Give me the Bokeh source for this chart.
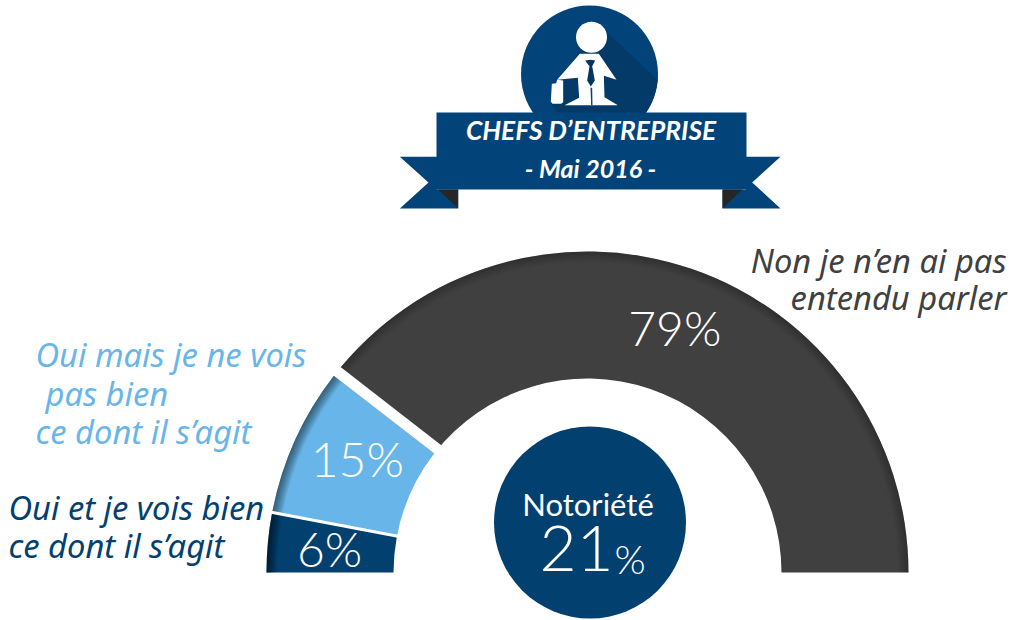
import math
from bokeh.plotting import figure
from bokeh.core.properties import value
from bokeh.embed import file_html
from bokeh.resources import INLINE

# ---- data ----
segment_names = ["Oui et je vois bien ce dont il s'agit", "Oui mais je ne vois pas bien ce dont il s'agit", "Non je n'en ai pas entendu parler"]
segment_values = [6, 15, 79]
notoriety_value = 21
title_lines = ["CHEFS D\u2019ENTREPRISE", "- Mai 2016 -"]

NAVY = "#02406f"
BAND = "#02447a"
BLUE = "#68b6e9"
DARK = "#404040"
seg_colors = [NAVY, BLUE, DARK]

W, H = 1014, 620
def Y(y): return H - y

p = figure(width=W, height=H, x_range=(0, W), y_range=(0, H), output_backend="svg",
           toolbar_location=None, min_border=0, outline_line_color=None, background_fill_color="white")
p.axis.visible = False
p.grid.visible = False

def base_text(txt, x, y, size, font, color="white", align="left", style="normal"):
    """Text whose alphabetic baseline sits at picture row y."""
    p.text(x=[x], y=[Y(y - 0.39 * size)], text=[txt], text_font=value(font), text_font_style=style,
           text_font_size=f"{size}px", text_color=color, text_align=align, text_baseline="alphabetic")

# ---- gauge ----
CX, CY, R_OUT, R_IN = 587, Y(572), 321, 194
cum = 0
starts, ends, mids = [], [], []
for v in segment_values:
    a0 = math.pi * (1 - cum / 100)
    cum += v
    a1 = math.pi * (1 - cum / 100)
    starts.append(a1); ends.append(a0); mids.append((a0 + a1) / 2)

p.annular_wedge(x=[CX]*3, y=[CY]*3, inner_radius=R_IN, outer_radius=R_OUT, start_angle=starts, end_angle=ends,
                fill_color=seg_colors, line_color=None)

# inner shadow at the outer rim
for k in range(8):
    for i, alpha0 in ((0, .08), (1, .07), (2, .028)):
        p.annular_wedge(x=[CX], y=[CY], inner_radius=R_OUT - (k + 1) * 1.3, outer_radius=R_OUT,
                        start_angle=[starts[i]], end_angle=[ends[i]], fill_color="black",
                        fill_alpha=alpha0, line_color=None)

# separators
a = ends[1]
p.segment(x0=[CX + 185*math.cos(a)], y0=[CY + 185*math.sin(a)], x1=[CX + 330*math.cos(a)], y1=[CY + 330*math.sin(a)],
          line_color="white", line_width=3)
a = starts[1]
nx, ny = math.sin(a), -math.cos(a)
off = 5.5
p.segment(x0=[CX + 185*math.cos(a) + off*nx], y0=[CY + 185*math.sin(a) + off*ny],
          x1=[CX + 330*math.cos(a) + off*nx], y1=[CY + 330*math.sin(a) + off*ny],
          line_color="white", line_width=11)

LIGHT = value("Lato Light")
r_lab = 257
nudge_x, nudge_y = [-2, 4, 4], [0, 8, 2]
p.text(x=[CX + r_lab*math.cos(m) + dx for m, dx in zip(mids, nudge_x)],
       y=[CY + r_lab*math.sin(m) + dy for m, dy in zip(mids, nudge_y)],
       text=[f"{v}%" for v in segment_values], text_font=LIGHT, text_font_size="48px", text_color="white",
       text_align="center", text_baseline="middle")

# ---- centre circle ----
p.circle(x=[589.5], y=[Y(522)], radius=96, fill_color=NAVY, line_color=None)
base_text("Notori\u00e9t\u00e9", 587.5, 516, 31, "Lato", align="center")
base_text(str(notoriety_value), 539, 573, 64, "Lato Light")
base_text("%", 614, 574, 40, "Lato Light")

# ---- labels ----
def label(txt, x, y, color, align="left"):
    base_text(txt, x, y, 32.7, "Noto Sans", color, align, "italic")
label("Non je n\u2019en ai pas", 1006, 273, DARK, "right")
label("entendu parler", 1006, 310, DARK, "right")
label("Oui mais je ne vois", 35, 367, BLUE)
label("pas bien", 45, 406, BLUE)
label("ce dont il s\u2019agit", 35, 444, BLUE)
label("Oui et je vois bien", 8, 520, NAVY)
label("ce dont il s\u2019agit", 8, 558, NAVY)

# ---- badge ----
BCX, BCY, BR = 589, 73.5, 68.5
p.circle(x=[BCX], y=[Y(BCY)], radius=BR, fill_color=BAND, line_color=None)

def zx(v): return 390 + v / 3
def zy(v): return v / 3
def poly(pts, color):
    p.patch([zx(a) for a, b in pts], [Y(zy(b)) for a, b in pts], fill_color=color, line_color=None)

# long shadow, its far edge following the badge circle
arc = []
for d in range(-10, 55, 5):
    t = math.radians(d)
    arc.append(((BCX + BR*math.cos(t) - 390) * 3, (BCY + BR*math.sin(t)) * 3))
poly([(650, 95)] + [(800, 238)] + arc[1:] + [(500, 336), (480, 310), (520, 240), (560, 160)], "#033a67")

# person
p.circle(x=[zx(603)], y=[Y(zy(110))], radius=15.5, fill_color="white", line_color=None)
poly([(568, 160), (625, 160), (678, 238), (640, 226), (642, 290), (682, 314), (522, 314), (566, 292), (562, 232), (500, 238)], "white")
poly([(600, 262), (602, 314), (606, 314), (605, 262)], BAND)
poly([(584, 180), (600, 178), (614, 180), (605, 197), (613, 240), (601, 258), (590, 240), (597, 197)], "#03365f")
# case
poly([(484, 250), (497, 248), (500, 238), (518, 240), (518, 305), (512, 310), (486, 310), (481, 304)], "white")

# ribbon
poly([(28, 469), (140, 469), (140, 567), (203, 567), (203, 624), (28, 624), (114, 546)], BAND)
poly([(1170, 469), (1066, 469), (1066, 567), (996, 567), (996, 624), (1170, 624), (1085, 546)], BAND)
poly([(143, 567), (203, 567), (203, 624)], "#262626")
poly([(1056, 567), (996, 567), (996, 624)], "#262626")
poly([(138, 336), (1068, 336), (1068, 567), (138, 567)], BAND)

base_text(title_lines[0], 590.5, 140, 26.3, "Lato", align="center", style="bold italic")
base_text(title_lines[1], 590, 177, 25, "Lato", align="center", style="bold italic")

open("out.html", "w").write(file_html(p, INLINE))
